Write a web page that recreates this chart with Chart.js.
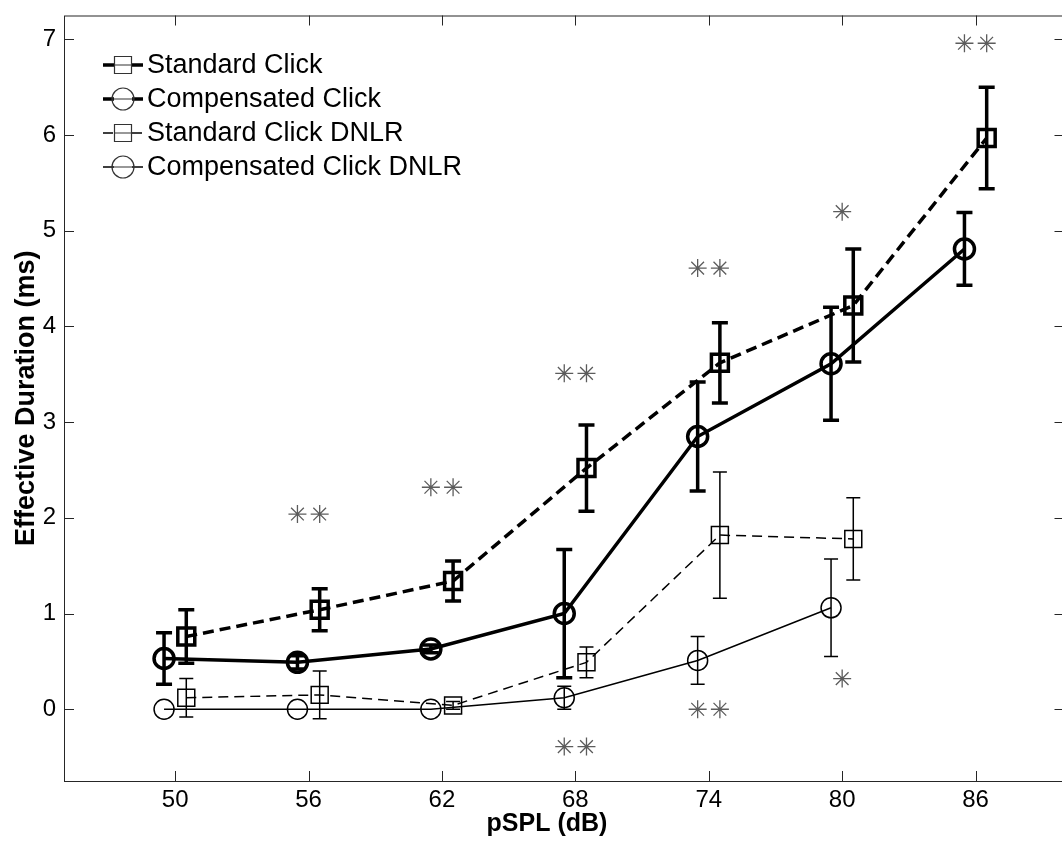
<!DOCTYPE html>
<html lang="en">
<head>
<meta charset="UTF-8">
<title>Effective Duration vs pSPL</title>
<script src="https://cdnjs.cloudflare.com/ajax/libs/Chart.js/4.4.1/chart.umd.min.js"></script>
<style>
    html, body { margin: 0; padding: 0; background: #fff; overflow: hidden; }
    .plot { width: 1080px; height: 842px; }
</style>
</head>
<body>
<div class="plot"><canvas id="durationChart" width="1080" height="842"></canvas></div>
<script>
// stimulus levels (dB pSPL)
const levels = [50, 56, 62, 68, 74, 80, 86];
const yTicks = [0, 1, 2, 3, 4, 5, 6, 7];

// mean effective duration (ms) and error half-widths
const stdClick      = [0.76, 1.04, 1.34, 2.52, 3.62, 4.22, 5.97];
const stdClickErr   = [0.28, 0.22, 0.21, 0.45, 0.42, 0.59, 0.53];
const compClick     = [0.53, 0.49, 0.63, 1.00, 2.85, 3.61, 4.81];
const compClickErr  = [0.27, 0.07, 0.04, 0.67, 0.57, 0.59, 0.38];
const stdDnlr       = [0.12, 0.15, 0.04, 0.49, 1.82, 1.78];
const stdDnlrErr    = [0.20, 0.25, 0.04, 0.16, 0.66, 0.43];
const compDnlr      = [0.00, 0.00, 0.00, 0.12, 0.51, 1.06];
const compDnlrErr   = [0.00, 0.00, 0.00, 0.12, 0.25, 0.51];

// significance asterisks: standard vs compensated (above) and DNLR (below)
const sigClickX = [55.5, 56.5, 61.5, 62.5, 67.5, 68.5, 73.5, 74.5, 80, 85.5, 86.5];
const sigClickY = [2.04, 2.04, 2.32, 2.32, 3.51, 3.51, 4.61, 4.61, 5.2, 6.96, 6.96];
const sigDnlrX  = [67.5, 68.5, 73.5, 74.5, 80];
const sigDnlrY  = [-0.39, -0.39, 0.0, 0.0, 0.32];

const shift = 0.5; // standard series sit right of the level, compensated left
const toPoints = (vals, dx) => vals.map((v, i) => ({ x: levels[i] + dx, y: v }));
const toXY = (xs, ys) => xs.map((x, i) => ({ x: x, y: ys[i] }));

const FONT = 'Arial, "Liberation Sans", Helvetica, sans-serif';

// vertical error bars with caps
const errorBars = {
    id: 'errorBars',
    afterDatasetsDraw(chart) {
        const { ctx, scales: { x, y } } = chart;
        chart.data.datasets.forEach(ds => {
            if (!ds.errors) return;
            ctx.save();
            ctx.strokeStyle = '#000';
            ctx.lineWidth = ds.borderWidth;
            ctx.lineCap = 'butt';
            ds.data.forEach((p, i) => {
                const e = ds.errors[i];
                if (!e) return;
                const px = x.getPixelForValue(p.x);
                const top = y.getPixelForValue(p.y + e);
                const bot = y.getPixelForValue(p.y - e);
                ctx.beginPath();
                ctx.moveTo(px, top); ctx.lineTo(px, bot);
                ctx.moveTo(px - ds.capHalf, top); ctx.lineTo(px + ds.capHalf, top);
                ctx.moveTo(px - ds.capHalf, bot); ctx.lineTo(px + ds.capHalf, bot);
                ctx.stroke();
            });
            ctx.restore();
        });
    }
};

// boxed axes with inward ticks on all four sides, plus the x label
const boxAxes = {
    id: 'boxAxes',
    afterDraw(chart) {
        const { ctx, chartArea: a, scales: { x, y } } = chart;
        const len = 10;
        ctx.save();
        ctx.strokeStyle = '#262626';
        ctx.lineWidth = 1;
        ctx.strokeRect(a.left + 0.5, a.top + 0.5, a.right - a.left, a.bottom - a.top);
        ctx.beginPath();
        x.ticks.forEach(t => {
            const px = Math.round(x.getPixelForValue(t.value)) + 0.5;
            ctx.moveTo(px, a.bottom); ctx.lineTo(px, a.bottom - len);
            ctx.moveTo(px, a.top); ctx.lineTo(px, a.top + len);
        });
        y.ticks.forEach(t => {
            const py = Math.round(y.getPixelForValue(t.value)) + 0.5;
            ctx.moveTo(a.left, py); ctx.lineTo(a.left + len, py);
            ctx.moveTo(a.right, py); ctx.lineTo(a.right - len, py);
        });
        ctx.stroke();

        ctx.fillStyle = '#000';
        ctx.font = 'bold 25px ' + FONT;
        ctx.textAlign = 'center';
        ctx.textBaseline = 'alphabetic';
        ctx.fillText('pSPL (dB)', 547, 831);
        ctx.restore();
    }
};

// legend in the top-left corner: line sample, marker, label
const cornerLegend = {
    id: 'cornerLegend',
    afterDraw(chart) {
        const ctx = chart.ctx;
        const x0 = 103, x1 = 143, xm = 123, xt = 147;
        let yy = 65;
        ctx.save();
        chart.data.datasets.forEach(ds => {
            if (!ds.inLegend) return;
            ctx.strokeStyle = '#000';
            ctx.lineWidth = ds.borderWidth;
            ctx.setLineDash(ds.borderDash || []);
            ctx.beginPath();
            ctx.moveTo(x0, yy); ctx.lineTo(xm - 9, yy);
            ctx.moveTo(xm + 9, yy); ctx.lineTo(x1, yy);
            ctx.stroke();
            ctx.setLineDash([]);
            ctx.lineWidth = 1.2;
            ctx.strokeStyle = '#333';
            ctx.beginPath();
            if (ds.pointStyle === 'rect') {
                ctx.rect(xm - 8.5, yy - 8.5, 17, 17);
                ctx.moveTo(xm - 8.5, yy); ctx.lineTo(xm + 8.5, yy);
            } else {
                ctx.arc(xm, yy, 11, 0, Math.PI * 2);
                ctx.moveTo(xm - 11, yy); ctx.lineTo(xm + 11, yy);
            }
            ctx.stroke();
            ctx.fillStyle = '#000';
            ctx.font = '27px ' + FONT;
            ctx.textBaseline = 'middle';
            ctx.fillText(ds.label, xt, yy + 1);
            yy += 34;
        });
        ctx.restore();
    }
};

const seriesBase = {
    borderColor: '#000',
    backgroundColor: 'rgba(0,0,0,0)',
    pointBorderColor: '#000',
    pointBackgroundColor: 'rgba(0,0,0,0)',
    tension: 0,
    fill: false,
    inLegend: true
};

const stars = {
    showLine: false,
    pointStyle: 'star',
    pointRadius: 9,
    borderColor: '#5c5c5c',
    pointBorderColor: '#5c5c5c',
    pointBorderWidth: 1.3,
    backgroundColor: 'rgba(0,0,0,0)'
};

// tiny dark centre of each asterisk
const starDots = {
    showLine: false,
    pointStyle: 'circle',
    pointRadius: 1.3,
    pointBorderWidth: 0,
    pointBackgroundColor: '#000',
    borderColor: '#000'
};

new Chart(document.getElementById('durationChart'), {
    type: 'line',
    data: {
        datasets: [
            Object.assign({}, seriesBase, {
                label: 'Standard Click',
                data: toPoints(stdClick, shift),
                errors: stdClickErr,
                borderWidth: 3.5,
                borderDash: [11, 6],
                pointStyle: 'rect',
                pointRadius: 12,
                pointBorderWidth: 3.5,
                capHalf: 8
            }),
            Object.assign({}, seriesBase, {
                label: 'Compensated Click',
                data: toPoints(compClick, -shift),
                errors: compClickErr,
                borderWidth: 3.5,
                pointStyle: 'circle',
                pointRadius: 10,
                pointBorderWidth: 3.5,
                capHalf: 8
            }),
            Object.assign({}, seriesBase, {
                label: 'Standard Click DNLR',
                data: toPoints(stdDnlr, shift),
                errors: stdDnlrErr,
                borderWidth: 1.5,
                borderDash: [10, 6],
                pointStyle: 'rect',
                pointRadius: 12,
                pointBorderWidth: 1.5,
                capHalf: 7
            }),
            Object.assign({}, seriesBase, {
                label: 'Compensated Click DNLR',
                data: toPoints(compDnlr, -shift),
                errors: compDnlrErr,
                borderWidth: 1.5,
                pointStyle: 'circle',
                pointRadius: 10,
                pointBorderWidth: 1.5,
                capHalf: 7
            }),
            Object.assign({}, stars, { label: 'sig', data: toXY(sigClickX, sigClickY) }),
            Object.assign({}, stars, { label: 'sig dnlr', data: toXY(sigDnlrX, sigDnlrY) }),
            Object.assign({}, starDots, { label: 'sig c', data: toXY(sigClickX, sigClickY) }),
            Object.assign({}, starDots, { label: 'sig dnlr c', data: toXY(sigDnlrX, sigDnlrY) })
        ]
    },
    options: {
        responsive: false,
        animation: false,
        events: [],
        layout: { padding: { top: 13, right: 9, left: 0, bottom: 0 } },
        plugins: {
            legend: { display: false },
            tooltip: { enabled: false }
        },
        scales: {
            x: {
                type: 'linear',
                min: 45,
                max: 90,
                afterBuildTicks: s => { s.ticks = levels.map(v => ({ value: v })); },
                afterFit: s => {
                    s.height = 61;
                    s.paddingLeft = 0;
                    s.paddingRight = 0;
                },
                grid: { display: false, drawTicks: false },
                border: { display: false },
                ticks: {
                    color: '#000',
                    padding: 5,
                    font: { family: FONT, size: 24 }
                }
            },
            y: {
                type: 'linear',
                min: -0.75,
                max: 7.25,
                afterBuildTicks: s => { s.ticks = yTicks.map(v => ({ value: v })); },
                afterFit: s => {
                    s.width = 64;
                    s.paddingTop = 0;
                    s.paddingBottom = 0;
                },
                grid: { display: false, drawTicks: false },
                border: { display: false },
                ticks: {
                    color: '#000',
                    padding: 8,
                    font: { family: FONT, size: 24 }
                },
                title: {
                    display: true,
                    text: 'Effective Duration (ms)',
                    color: '#000',
                    padding: { top: 10, bottom: 0 },
                    font: { family: FONT, size: 27, weight: 'bold' }
                }
            }
        }
    },
    plugins: [errorBars, boxAxes, cornerLegend]
});
</script>
</body>
</html>
